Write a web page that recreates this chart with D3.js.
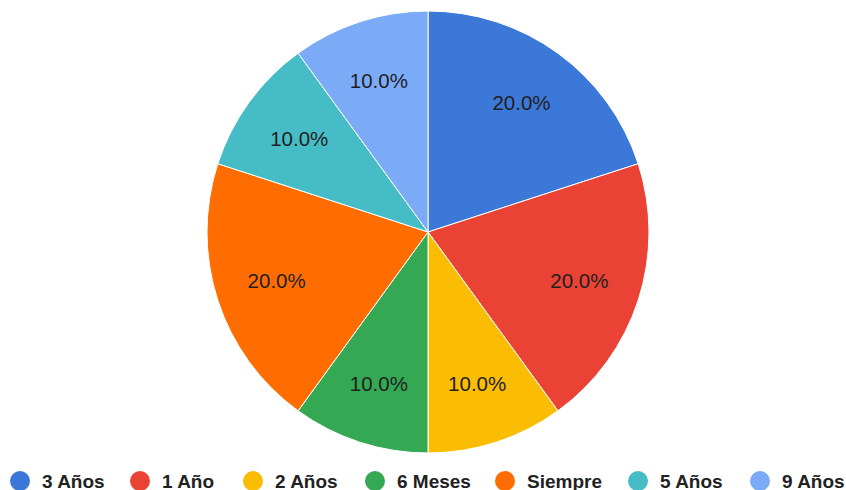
<!DOCTYPE html>
<html>
<head>
<meta charset="utf-8">
<script src="https://cdn.jsdelivr.net/npm/d3@7"></script>
<style>
  body { margin: 0; background: #fff; }
  text { font-family: "Liberation Sans", Arial, sans-serif; }
</style>
</head>
<body>
<script>
// chart data
var categories = ["3 Años", "1 Año", "2 Años", "6 Meses", "Siempre", "5 Años", "9 Años"];
var values = [20, 20, 10, 10, 20, 10, 10];
var colors = ["#3c78d8", "#ea4335", "#fbbc04", "#34a853", "#ff6d01", "#46bdc6", "#7baaf7"];
var legendX = [20, 140, 253, 375, 505, 638, 760];

var width = 846, height = 490;
var cx = 428, cy = 232, r = 221;

var svg = d3.select("body").append("svg")
    .attr("width", width)
    .attr("height", height);

var data = categories.map(function(c, i) { return {name: c, value: values[i], color: colors[i]}; });

var pie = d3.pie().sort(null).value(function(d) { return d.value; });
var arc = d3.arc().innerRadius(0).outerRadius(r);
var labelArc = d3.arc().innerRadius(r * 0.72).outerRadius(r * 0.72);
var total = d3.sum(values);

var g = svg.append("g").attr("transform", "translate(" + cx + "," + cy + ")");

g.selectAll("path")
    .data(pie(data)).enter()
    .append("path")
    .attr("d", arc)
    .attr("fill", function(d) { return d.data.color; })
    .attr("stroke", "#fff")
    .attr("stroke-width", 1);

g.selectAll("text.lbl")
    .data(pie(data)).enter()
    .append("text")
    .attr("class", "lbl")
    .attr("transform", function(d) { return "translate(" + labelArc.centroid(d) + ")"; })
    .attr("text-anchor", "middle")
    .attr("dy", "0.35em")
    .attr("font-size", 20.5)
    .attr("fill", "#1f1f1f")
    .text(function(d) { return (d.data.value / total * 100).toFixed(1) + "%"; });

// legend
var leg = svg.selectAll("g.leg")
    .data(data).enter()
    .append("g")
    .attr("class", "leg")
    .attr("transform", function(d, i) { return "translate(" + legendX[i] + ",481)"; });

leg.append("circle")
    .attr("r", 10)
    .attr("fill", function(d) { return d.color; });

leg.append("text")
    .attr("x", 22)
    .attr("dy", "0.35em")
    .attr("font-size", 19)
    .attr("font-weight", "bold")
    .attr("fill", "#222")
    .text(function(d) { return d.name; });
</script>
</body>
</html>
